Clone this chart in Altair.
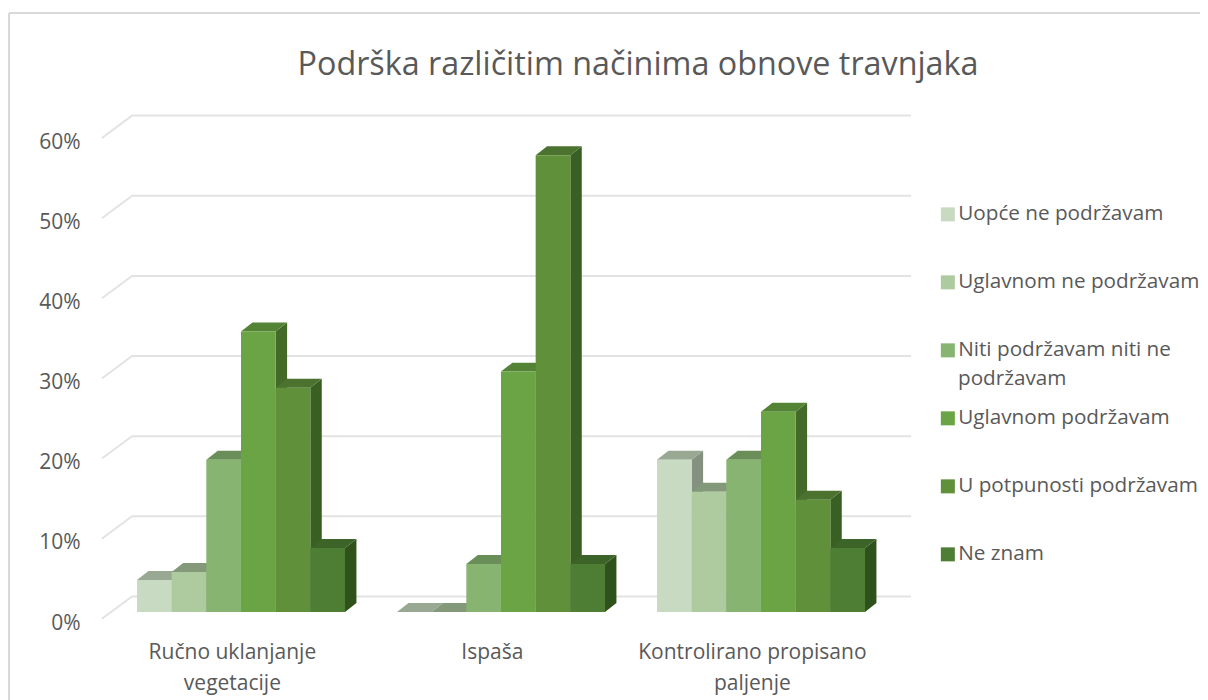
import altair as alt
import pandas as pd

title = "Podrška različitim načinima obnove travnjaka"
categories = ["Ručno uklanjanje vegetacije", "Ispaša", "Kontrolirano propisano paljenje"]
series = ["Uopće ne podržavam", "Uglavnom ne podržavam", "Niti podržavam niti ne podržavam",
          "Uglavnom podržavam", "U potpunosti podržavam", "Ne znam"]
values = [
    [4, 5, 19, 35, 28, 8],
    [0, 0, 6, 30, 57, 6],
    [19, 15, 19, 25, 14, 8],
]
y_ticks = [0, 10, 20, 30, 40, 50, 60]
front_colors = ["#c9dac3", "#adcb9e", "#87b571", "#6aa444", "#609039", "#4e7e33"]
top_colors = ["#98a892", "#83997a", "#6a8e58", "#548336", "#4c7230", "#3d6428"]
side_colors = ["#849080", "#75886c", "#5d7c4c", "#436a28", "#3a5f22", "#2f511b"]

TEXT = "#595959"
FONT = "Open Sans"
bar_w = 0.8 / 6
dx, dy = 0.044, 1.12
wall_dy, slant_dy = 1.95, 2.8
x_front, x_wall, x_right = -0.035, 0.081, 3.077

fronts, sides, tops, grid = [], [], [], []
for c, row in enumerate(values):
    for s, v in enumerate(row):
        xl = c + 0.1 + s * bar_w
        xr = xl + bar_w
        bar = f"{c}-{s}"
        fronts.append(dict(series=series[s], xl=xl, xr=xr, v=v))
        sides += [dict(bar=bar, hex=side_colors[s], x=xr, lo=0, hi=v),
                  dict(bar=bar, hex=side_colors[s], x=xr + dx, lo=dy, hi=v + dy)]
        tops += [dict(bar=bar, hex=top_colors[s], y=v, a=xl, b=xr),
                 dict(bar=bar, hex=top_colors[s], y=v + dy, a=xl + dx, b=xr + dx)]
for t in y_ticks:
    grid += [dict(t=t, o=0, x=x_front, y=t + wall_dy - slant_dy),
             dict(t=t, o=1, x=x_wall, y=t + wall_dy),
             dict(t=t, o=2, x=x_right, y=t + wall_dy)]

x_scale = alt.Scale(domain=[-0.08846, 3.0808], nice=False, zero=False)
y_scale = alt.Scale(domain=[0, 63.9], nice=False, zero=False)

x_axis = alt.Axis(values=[0.465, 1.465, 2.465], title=None, domain=False, ticks=False, grid=False,
                  labelExpr="datum.value < 1 ? ['Ručno uklanjanje', 'vegetacije'] : datum.value < 2 ? 'Ispaša' : ['Kontrolirano propisano', 'paljenje']",
                  labelFont=FONT, labelFontSize=21, labelColor=TEXT, labelPadding=40, labelLimit=400,
                  labelLineHeight=31, labelFlush=False, labelOverlap=False, labelAngle=0, labelBaseline="middle")
y_axis = alt.Axis(values=y_ticks, title=None, domain=False, ticks=False, grid=False,
                  labelExpr="datum.value + '%'", labelFont=FONT, labelFontSize=21, labelColor=TEXT,
                  labelPadding=8, labelOffset=11)

border_left = alt.Chart(pd.DataFrame([{"a": 0}])).mark_rule(color="#d9d9d9", strokeWidth=2).encode(
    x=alt.value(-79), y=alt.value(-87), y2=alt.value(600))
border_top = alt.Chart(pd.DataFrame([{"a": 0}])).mark_rule(color="#d9d9d9", strokeWidth=2).encode(
    x=alt.value(-79), x2=alt.value(1112), y=alt.value(-87))

grid_layer = alt.Chart(pd.DataFrame(grid)).mark_line(color="#e3e3e3", strokeWidth=2).encode(
    x=alt.X("x:Q", scale=x_scale, axis=x_axis),
    y=alt.Y("y:Q", scale=y_scale, axis=y_axis),
    detail="t:N", order="o:Q")

side_layer = alt.Chart(pd.DataFrame(sides)).mark_area(orient="vertical").encode(
    x=alt.X("x:Q", scale=x_scale, axis=x_axis),
    y=alt.Y("lo:Q", scale=y_scale, axis=y_axis), y2="hi:Q",
    fill=alt.Fill("hex:N", scale=None), detail="bar:N")

top_layer = alt.Chart(pd.DataFrame(tops)).mark_area(orient="horizontal").encode(
    y=alt.Y("y:Q", scale=y_scale, axis=y_axis),
    x=alt.X("a:Q", scale=x_scale, axis=x_axis), x2="b:Q",
    fill=alt.Fill("hex:N", scale=None), detail="bar:N")

legend = alt.Legend(title=None, orient="none", legendX=849.5, legendY=104, columns=1,
                    symbolType="square", symbolSize=196, symbolStrokeWidth=0, rowPadding=46,
                    labelFont=FONT, labelFontSize=20.7, labelColor=TEXT, labelLimit=400, labelOffset=0,
                    labelExpr="datum.label == 'Niti podržavam niti ne podržavam' ? 'Niti podržavam niti ne' : datum.label")

front_layer = alt.Chart(pd.DataFrame(fronts)).mark_rect().encode(
    x=alt.X("xl:Q", scale=x_scale, axis=x_axis), x2="xr:Q",
    y=alt.Y("v:Q", scale=y_scale, axis=y_axis), y2=alt.Y2(datum=0),
    color=alt.Color("series:N", scale=alt.Scale(domain=series, range=front_colors), sort=series, legend=legend))

legend_wrap = alt.Chart(pd.DataFrame([{"t": "podržavam"}])).mark_text(
    font=FONT, fontSize=20.7, color=TEXT, align="left", baseline="middle").encode(
    x=alt.value(870), y=alt.value(278.5), text="t:N")

chart = alt.layer(border_left, border_top, grid_layer, side_layer, top_layer, front_layer, legend_wrap).properties(
    width=824, height=512,
    padding={"left": 80, "top": 92, "right": 288, "bottom": 88},
    autosize=alt.AutoSizeParams(type="none"),
    title=alt.TitleParams(title, font=FONT, fontSize=32.3, fontWeight="normal", color=TEXT,
                          anchor="middle", dx=138, offset=-69),
).configure_view(stroke=None)

chart.save("out.html", embed_options={"renderer": "svg", "actions": False})
